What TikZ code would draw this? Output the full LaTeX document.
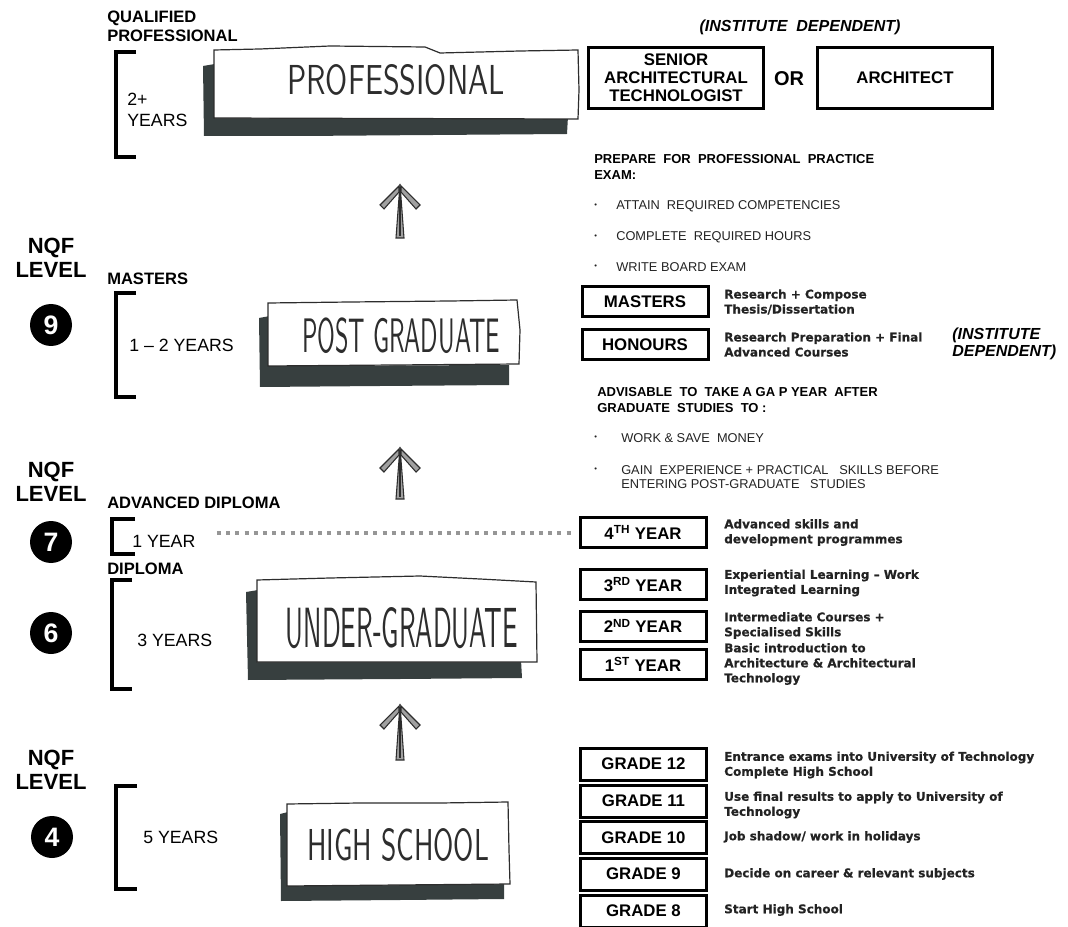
\documentclass[tikz,border=0pt]{standalone}
\usepackage{fontspec}
\setmainfont{Liberation Sans}
\newfontfamily\descfont{DejaVu Sans}[BoldFeatures={FakeBold=0.6}]
\newfontfamily\handfont{lmsans10-regular.otf}
\usepackage{graphicx}

\definecolor{sketchshade}{RGB}{55,63,63}
\definecolor{pencil}{RGB}{45,45,45}
\definecolor{inktext}{RGB}{35,35,35}
\definecolor{dotgrey}{RGB}{150,150,150}

\newcommand{\handlabel}[3]{\resizebox{#1pt}{#2pt}{\color{pencil}\handfont #3}}
\newcommand{\smalldot}{\scalebox{0.6}{\textbullet}}

\tikzset{
  yrbox/.style={draw,line width=2.25pt,fill=white,inner sep=0pt,
    minimum width=94.5pt,minimum height=22.5pt,
    font=\bfseries\fontsize{12.6}{14}\selectfont},
  gradebox/.style={yrbox,minimum height=24pt},
  bigbox/.style={yrbox,minimum width=131pt,minimum height=45.5pt,align=center,
    font=\bfseries\fontsize{12.6}{13.5}\selectfont},
  lvl/.style={circle,fill=black,text=white,inner sep=0pt,minimum size=31.5pt,
    font=\bfseries\fontsize{20}{20}\selectfont},
  nqf/.style={align=center,inner sep=0pt,font=\bfseries\fontsize{16.5}{18}\selectfont},
  head/.style={anchor=west,align=left,inner sep=0pt,font=\bfseries\fontsize{12.4}{14.25}\selectfont},
  yrs/.style={anchor=west,align=left,inner sep=0pt,font=\fontsize{13.3}{15.75}\selectfont},
  brk/.style={line width=2.6pt},
  sketch/.style={draw=pencil,line width=0.9pt,fill=white},
  note/.style={anchor=west,align=left,inner sep=0pt,font=\bfseries\fontsize{9.75}{12}\selectfont},
  bul/.style={anchor=west,align=left,inner sep=0pt,text=inktext,font=\fontsize{9.6}{10.5}\selectfont},
  desc/.style={anchor=west,align=left,inner sep=0pt,text=inktext,font=\descfont\bfseries\fontsize{9}{11.25}\selectfont},
  inst/.style={inner sep=0pt,align=left,font=\bfseries\itshape\fontsize{12}{12.75}\selectfont},
  dots/.style={dotgrey,line width=3pt,dash pattern=on 3pt off 3.9pt},
  arm/.style={pencil,line width=0.8pt,fill=pencil!45}
}

\begin{document}
\begin{tikzpicture}[x=0.75pt,y=-0.75pt]
\useasboundingbox (0,0) rectangle (1068,927);

% professional
\node[head] (qual) at (107,26.5) {QUALIFIED\\PROFESSIONAL};
\draw[brk] (136,52) -- (116,52) -- (116,157) -- (136,157);
\node[yrs] (twoplus) at (127,110) {2+\\YEARS};
\fill[sketchshade] (203,66) -- (215,64) -- (215,118) -- (568,116) -- (567,134) -- (300,136) -- (204,136) -- cycle;
\draw[sketch] (214,118) -- (214,50) -- (260,49) -- (330,46) -- (425,47) -- (440,53) -- (520,51) -- (578,50) -- (579,90) -- (578,119) -- cycle;
\node (prof) at (396,80) {\handlabel{163}{22.5}{PROFESSIONAL}};

\node[inst] (instTop) at (800,27) {(INSTITUTE\ \ DEPENDENT)};
\node[bigbox] (senior) at (676,78) {SENIOR\\ARCHITECTURAL\\TECHNOLOGIST};
\node[inner sep=0pt,font=\bfseries\fontsize{15}{15}\selectfont] (or) at (789,79) {OR};
\node[bigbox] (architect) at (905,78) {ARCHITECT};

\coordinate (up1) at (400,184);
\begin{scope}[shift={(up1)}]
  \draw[arm] (0,0) -- (-4,54) -- (4,54) -- cycle;
  \draw[pencil,line width=0.8pt] (0,3) -- (0,52);
  \draw[arm] (-1,2) -- (-20,21) -- (-16,25) -- (-1,8) -- cycle;
  \draw[arm] (1,2) -- (20,21) -- (16,25) -- (1,8) -- cycle;
\end{scope}

\node[note] (prep) at (594,167) {PREPARE\ \ FOR\ \ PROFESSIONAL\ \ PRACTICE\\EXAM:};
\node[bul] (dotA) at (594,206) {\smalldot};
\node[bul] (attain) at (616,206) {ATTAIN\ \ REQUIRED COMPETENCIES};
\node[bul] (dotB) at (594,237) {\smalldot};
\node[bul] (hours) at (616,237) {COMPLETE\ \ REQUIRED HOURS};
\node[bul] (dotC) at (594,267) {\smalldot};
\node[bul] (board) at (616,267) {WRITE BOARD EXAM};

% post graduate
\node[nqf] (nqfNine) at (51,258) {NQF\\LEVEL};
\node[lvl] (nine) at (51,325) {9};
\node[head] (mast) at (107,279) {MASTERS};
\draw[brk] (136,293) -- (116,293) -- (116,397) -- (136,397);
\node[yrs] (onetwo) at (129,345) {1 – 2 YEARS};
\fill[sketchshade] (259,318) -- (270,316) -- (270,366) -- (509,365) -- (509,385) -- (380,386) -- (260,387) -- cycle;
\draw[sketch] (268,366) -- (268,303) -- (350,302) -- (450,301) -- (517,300) -- (520,330) -- (519,364) -- cycle;
\node (postgrad) at (401,336) {\handlabel{148.5}{26}{POST GRADUATE}};

\node[yrbox] (masters) at (645,302) {MASTERS};
\node[desc] (mastersTxt) at (724,302) {Research + Compose\\Thesis/Dissertation};
\node[yrbox] (honours) at (645,344.5) {HONOURS};
\node[desc] (honoursTxt) at (724,344.5) {Research Preparation + Final\\Advanced Courses};
\node[inst,anchor=west] (instSide) at (952,343.5) {(INSTITUTE\\DEPENDENT)};

\coordinate (up2) at (400,447);
\begin{scope}[shift={(up2)}]
  \draw[arm] (0,0) -- (-4,52) -- (4,52) -- cycle;
  \draw[pencil,line width=0.8pt] (0,3) -- (0,50);
  \draw[arm] (-1,2) -- (-20,21) -- (-16,25) -- (-1,8) -- cycle;
  \draw[arm] (1,2) -- (20,21) -- (16,25) -- (1,8) -- cycle;
\end{scope}

\node[note] (gap) at (597,400) {ADVISABLE\ \ TO\ \ TAKE A GA P YEAR\ \ AFTER\\GRADUATE\ \ STUDIES\ \ TO :};
\node[bul] (dotD) at (594,438) {\smalldot};
\node[bul] (money) at (621,438) {WORK \& SAVE\ \ MONEY};
\node[bul] (dotE) at (594,470) {\smalldot};
\node[bul] (skills) at (621,477) {GAIN\ \ EXPERIENCE + PRACTICAL\ \ \ SKILLS BEFORE\\ENTERING POST-GRADUATE\ \ \ STUDIES};

% under graduate
\node[nqf] (nqfSeven) at (51,482) {NQF\\LEVEL};
\node[lvl] (seven) at (51,542) {7};
\node[head] (advdip) at (107,503) {ADVANCED DIPLOMA};
\draw[brk] (135,519) -- (112,519) -- (112,554) -- (135,554);
\node[yrs] (oneyr) at (132,541) {1 YEAR};
\node[head] (dip) at (107,569) {DIPLOMA};
\node[lvl] (six) at (51,633) {6};
\draw[brk] (132,580) -- (112,580) -- (112,689) -- (132,689);
\node[yrs] (threeyr) at (137,640) {3 YEARS};
\fill[sketchshade] (246,592) -- (258,590) -- (258,662) -- (521,660) -- (522,678) -- (400,679) -- (248,680) -- cycle;
\draw[sketch] (257,662) -- (257,580) -- (330,578) -- (420,576) -- (480,579) -- (536,582) -- (537,662) -- cycle;
\node (undergrad) at (402,628) {\handlabel{174}{30}{UNDER-GRADUATE}};

\node[yrbox] (y4) at (643,532.5) {4\textsuperscript{TH} YEAR};
\node[desc] (y4txt) at (724,532.5) {Advanced skills and\\development programmes};
\draw[dots,shorten <=16pt,shorten >=3pt] (oneyr.east |- y4.west) -- (y4.west);
\node[yrbox] (y3) at (643,584.5) {3\textsuperscript{RD} YEAR};
\node[desc] (y3txt) at (724,583) {Experiential Learning – Work\\Integrated Learning};
\node[yrbox] (y2) at (643,626) {2\textsuperscript{ND} YEAR};
\node[desc] (y2txt) at (724,625.5) {Intermediate Courses +\\Specialised Skills};
\node[yrbox] (y1) at (643,664.5) {1\textsuperscript{ST} YEAR};
\node[desc] (y1txt) at (724,664) {Basic introduction to\\Architecture \& Architectural\\Technology};

\coordinate (up3) at (400,704);
\begin{scope}[shift={(up3)}]
  \draw[arm] (0,0) -- (-4,56) -- (4,56) -- cycle;
  \draw[pencil,line width=0.8pt] (0,3) -- (0,54);
  \draw[arm] (-1,2) -- (-20,21) -- (-16,25) -- (-1,8) -- cycle;
  \draw[arm] (1,2) -- (20,21) -- (16,25) -- (1,8) -- cycle;
\end{scope}

% high school
\node[nqf] (nqfFour) at (51,770) {NQF\\LEVEL};
\node[lvl] (four) at (52,837) {4};
\draw[brk] (137,786) -- (116,786) -- (116,889) -- (137,889);
\node[yrs] (fiveyr) at (143,837) {5 YEARS};
\fill[sketchshade] (280,814) -- (288,812) -- (288,886) -- (504,884) -- (504,899) -- (400,900) -- (281,901) -- cycle;
\draw[sketch] (287,886) -- (287,804) -- (360,803) -- (440,803) -- (508,802) -- (509,850) -- (510,884) -- cycle;
\node (highschool) at (398,845) {\handlabel{136.5}{24}{HIGH SCHOOL}};

\node[gradebox] (g12) at (643.5,764) {GRADE 12};
\node[desc] (g12txt) at (724,765) {Entrance\ exams\ into University\ of Technology\\Complete\ High School};
\node[gradebox] (g11) at (643.5,801) {GRADE 11};
\node[desc] (g11txt) at (724,805) {Use\ final results\ to apply to University\ of\\Technology};
\node[gradebox] (g10) at (643.5,837.5) {GRADE 10};
\node[desc] (g10txt) at (724,837) {Job shadow/\ work in holidays};
\node[gradebox] (g9) at (643.5,874) {GRADE 9};
\node[desc] (g9txt) at (724,874) {Decide on career \& relevant\ subjects};
\node[gradebox] (g8) at (643.5,911) {GRADE 8};
\node[desc] (g8txt) at (724,910) {Start High\ School};
\end{tikzpicture}
\end{document}
